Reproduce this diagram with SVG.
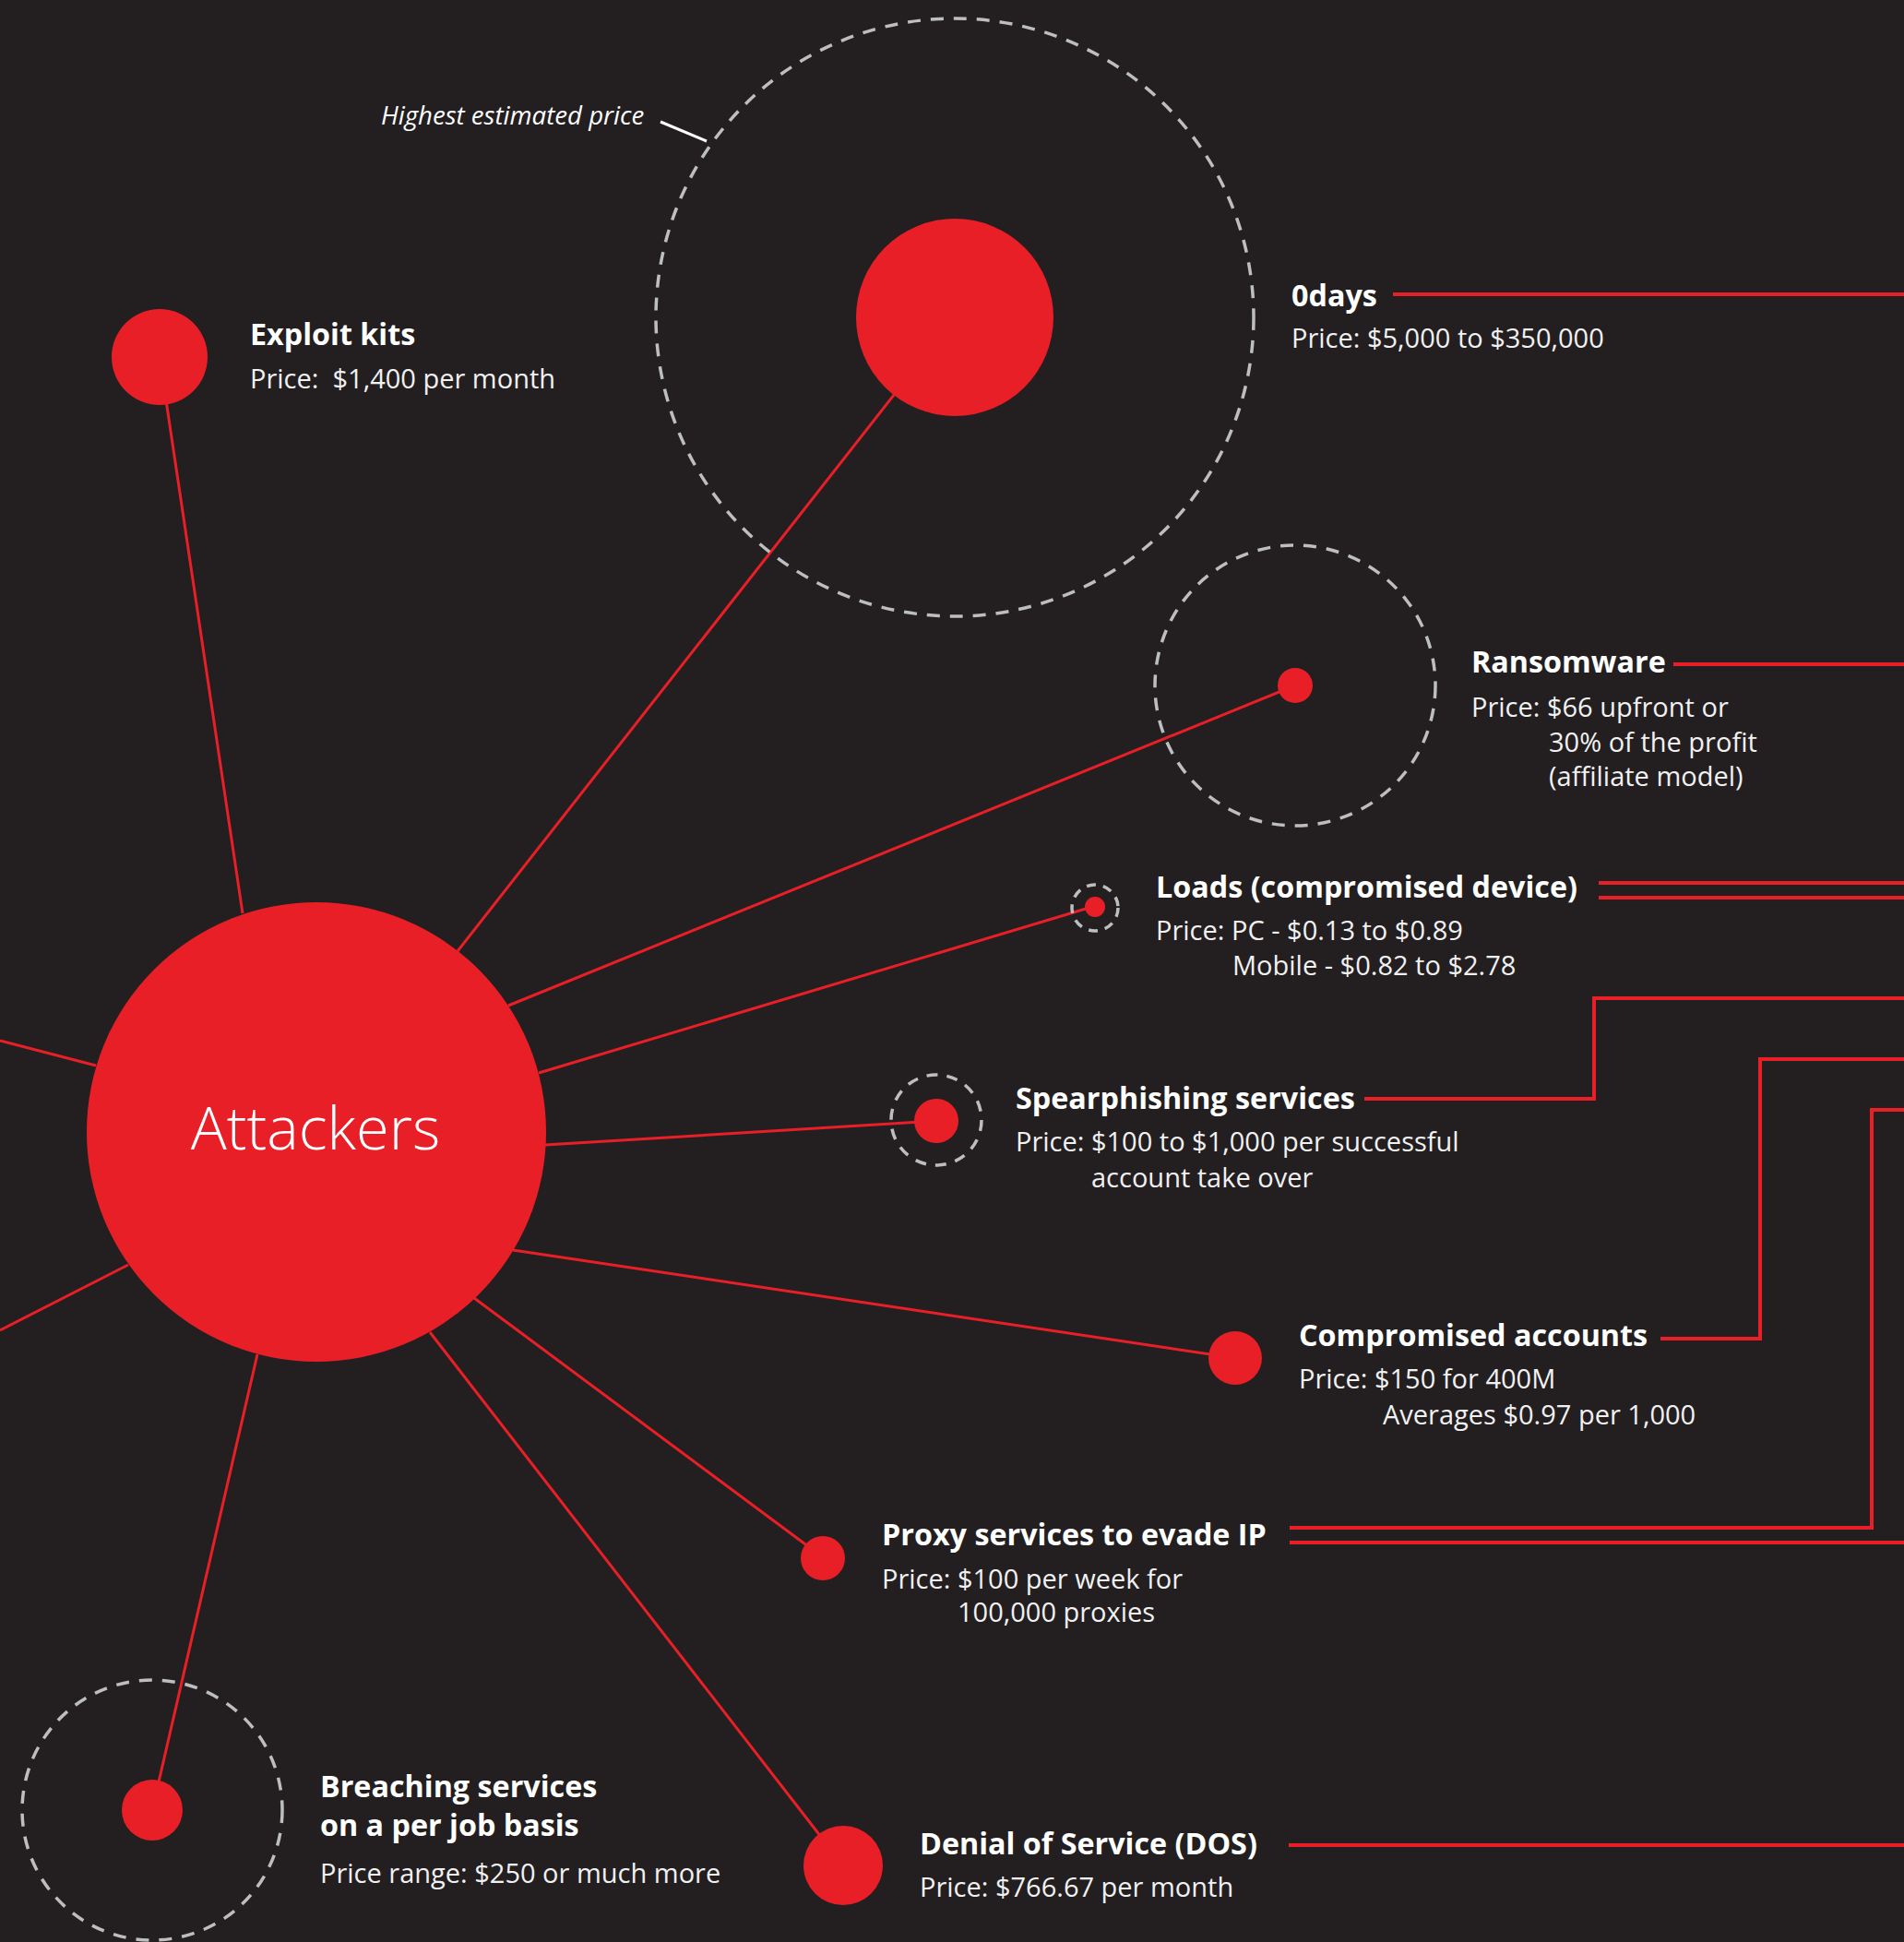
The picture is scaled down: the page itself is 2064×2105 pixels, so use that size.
<svg xmlns="http://www.w3.org/2000/svg" width="2064" height="2105" viewBox="0 0 2064 2105">
  <defs>
    <style>
      .bg { fill: #231F20; }
      .dot { fill: #E81F27; }
      .ring { fill: none; stroke: #BCBEC0; stroke-width: 3.5; stroke-dasharray: 14 11; }
      .link { fill: none; stroke: #E81F27; stroke-width: 3; }
      .lead { fill: none; stroke: #E81F27; stroke-width: 4; }
      .title { font-family: "Open Sans", "Noto Sans", "Liberation Sans", sans-serif; font-weight: 700; font-size: 32.3px; fill: #FFFFFF; }
      .price { font-family: "Open Sans", "Noto Sans", "Liberation Sans", sans-serif; font-weight: 400; font-size: 29px; fill: #F1F1F2; white-space: pre; }
      .note { font-family: "Open Sans", "Noto Sans", "Liberation Sans", sans-serif; font-style: italic; font-size: 27.6px; fill: #FFFFFF; }
      .hub { font-family: "Open Sans", "Noto Sans", "Liberation Sans", sans-serif; font-weight: 300; font-size: 65px; fill: #FFFFFF; }
    </style>
  </defs>

  <rect class="bg" x="0" y="0" width="2064" height="2105"/>

  <!-- spokes from the hub and leader lines to the right edge -->
  <g id="connectors">
    <line class="link" x1="263" y1="990" x2="173" y2="387"/>
    <line class="link" x1="496" y1="1031" x2="1035" y2="344"/>
    <line class="link" x1="551" y1="1090" x2="1404" y2="743"/>
    <line class="link" x1="584" y1="1163" x2="1187" y2="982"/>
    <line class="link" x1="591" y1="1241" x2="1015" y2="1215"/>
    <line class="link" x1="556" y1="1355" x2="1339" y2="1472"/>
    <line class="link" x1="514" y1="1407" x2="892" y2="1688"/>
    <line class="link" x1="466" y1="1444" x2="914" y2="2022"/>
    <line class="link" x1="279" y1="1468" x2="165" y2="1962"/>
    <line class="link" x1="104" y1="1155" x2="0" y2="1128"/>
    <line class="link" x1="139" y1="1371" x2="0" y2="1442"/>

    <line class="lead" x1="1510" y1="319" x2="2064" y2="319"/>
    <line class="lead" x1="1814" y1="720" x2="2064" y2="720"/>
    <line class="lead" x1="1733" y1="957" x2="2064" y2="957"/>
    <line class="lead" x1="1733" y1="973" x2="2064" y2="973"/>
    <polyline class="lead" points="1479,1191 1728,1191 1728,1082 2064,1082"/>
    <polyline class="lead" points="1800,1451 1908,1451 1908,1148 2064,1148"/>
    <polyline class="lead" points="1398,1656 2029,1656 2029,1203 2064,1203"/>
    <line class="lead" x1="1398" y1="1672" x2="2064" y2="1672"/>
    <line class="lead" x1="1397" y1="2000" x2="2064" y2="2000"/>

    <line x1="716" y1="132" x2="766" y2="153" stroke="#FFFFFF" stroke-width="3"/>
  </g>

  <g id="attackers">
    <circle class="dot" cx="343" cy="1227" r="249"/>
    <text class="hub" x="342" y="1246" text-anchor="middle">Attackers</text>
  </g>

  <g id="exploit-kits">
    <circle class="dot" cx="173" cy="387" r="52"/>
    <text class="title" x="271" y="374">Exploit kits</text>
    <text class="price" x="271" y="421">Price:  $1,400 per month</text>
  </g>

  <g id="zero-days">
    <circle class="ring" cx="1035" cy="344" r="324"/>
    <circle class="dot" cx="1035" cy="344" r="107"/>
    <text class="note" x="413" y="135">Highest estimated price</text>
    <text class="title" x="1400" y="332">0days</text>
    <text class="price" x="1400" y="377">Price: $5,000 to $350,000</text>
  </g>

  <g id="ransomware">
    <circle class="ring" cx="1404" cy="743" r="152"/>
    <circle class="dot" cx="1404" cy="743" r="19"/>
    <text class="title" x="1595" y="729">Ransomware</text>
    <text class="price" x="1595" y="777">Price: $66 upfront or</text>
    <text class="price" x="1679" y="815">30% of the profit</text>
    <text class="price" x="1679" y="852">(affiliate model)</text>
  </g>

  <g id="loads">
    <circle class="ring" cx="1187" cy="984" r="25" style="stroke-dasharray: 10 8"/>
    <circle class="dot" cx="1187" cy="983" r="11"/>
    <text class="title" x="1253" y="973">Loads (compromised device)</text>
    <text class="price" x="1253" y="1019">Price: PC - $0.13 to $0.89</text>
    <text class="price" x="1336" y="1057">Mobile - $0.82 to $2.78</text>
  </g>

  <g id="spearphishing">
    <circle class="ring" cx="1015" cy="1214" r="49" style="stroke-dasharray: 12 10"/>
    <circle class="dot" cx="1015" cy="1215" r="24"/>
    <text class="title" x="1101" y="1202">Spearphishing services</text>
    <text class="price" x="1101" y="1248">Price: $100 to $1,000 per successful</text>
    <text class="price" x="1183" y="1287">account take over</text>
  </g>

  <g id="compromised-accounts">
    <circle class="dot" cx="1339" cy="1472" r="29"/>
    <text class="title" x="1408" y="1459">Compromised accounts</text>
    <text class="price" x="1408" y="1505">Price: $150 for 400M</text>
    <text class="price" x="1499" y="1544">Averages $0.97 per 1,000</text>
  </g>

  <g id="proxy-services">
    <circle class="dot" cx="892" cy="1689" r="24"/>
    <text class="title" x="956" y="1675">Proxy services to evade IP</text>
    <text class="price" x="956" y="1722">Price: $100 per week for</text>
    <text class="price" x="1038" y="1758">100,000 proxies</text>
  </g>

  <g id="breaching-services">
    <circle class="ring" cx="165" cy="1962" r="141"/>
    <circle class="dot" cx="165" cy="1962" r="33"/>
    <text class="title" x="347" y="1948">Breaching services</text>
    <text class="title" x="347" y="1990">on a per job basis</text>
    <text class="price" x="347" y="2041">Price range: $250 or much more</text>
  </g>

  <g id="denial-of-service">
    <circle class="dot" cx="914" cy="2022" r="43"/>
    <text class="title" x="997" y="2010">Denial of Service (DOS)</text>
    <text class="price" x="997" y="2056">Price: $766.67 per month</text>
  </g>
</svg>
